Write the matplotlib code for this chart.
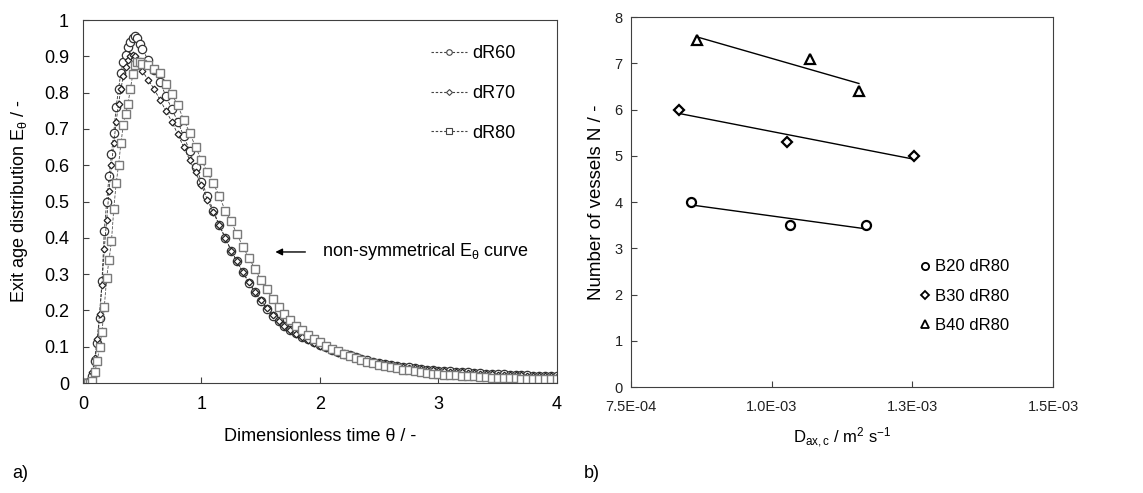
import matplotlib
matplotlib.use('Agg')
import matplotlib.pyplot as plt
import numpy as np
from matplotlib.lines import Line2D

plt.rcParams.update({'font.family': 'Liberation Sans', 'mathtext.fontset': 'custom',
    'mathtext.rm': 'Liberation Sans', 'mathtext.it': 'Liberation Sans:italic',
    'axes.edgecolor': '#404040', 'xtick.color': '#404040', 'ytick.color': '#404040',
    'text.color': 'black', 'axes.labelcolor': 'black'})

# --- panel a: exit age distribution ---
theta = [0.00, 0.02, 0.04, 0.06, 0.08, 0.10, 0.12, 0.14, 0.16, 0.18, 0.20, 0.22, 0.24,
         0.26, 0.28, 0.30, 0.32, 0.34, 0.36, 0.38, 0.40, 0.42, 0.44, 0.46, 0.48, 0.50,
         0.55, 0.60, 0.65, 0.70, 0.75, 0.80, 0.85, 0.90, 0.95, 1.00,
         1.05, 1.10, 1.15, 1.20, 1.25, 1.30, 1.35, 1.40, 1.45, 1.50,
         1.55, 1.60, 1.65, 1.70, 1.75, 1.80, 1.85, 1.90, 1.95, 2.00,
         2.05, 2.10, 2.15, 2.20, 2.25, 2.30, 2.35, 2.40, 2.45, 2.50,
         2.55, 2.60, 2.65, 2.70, 2.75, 2.80, 2.85, 2.90, 2.95, 3.00,
         3.05, 3.10, 3.15, 3.20, 3.25, 3.30, 3.35, 3.40, 3.45, 3.50,
         3.55, 3.60, 3.65, 3.70, 3.75, 3.80, 3.85, 3.90, 3.95, 4.00]

e_dr60 = [0, 0, 0, 0.005, 0.02, 0.06, 0.11, 0.18, 0.28, 0.42, 0.50, 0.57, 0.63,
          0.69, 0.76, 0.81, 0.855, 0.885, 0.905, 0.925, 0.94, 0.95, 0.957, 0.95, 0.935, 0.92,
          0.89, 0.862, 0.83, 0.79, 0.755, 0.72, 0.68, 0.64, 0.595, 0.555,
          0.515, 0.475, 0.435, 0.40, 0.365, 0.335, 0.305, 0.275, 0.25, 0.225,
          0.205, 0.185, 0.17, 0.158, 0.147, 0.137, 0.128, 0.12, 0.112, 0.105,
          0.098, 0.092, 0.086, 0.081, 0.076, 0.071, 0.067, 0.063, 0.059, 0.056,
          0.053, 0.05, 0.048, 0.045, 0.043, 0.041, 0.039, 0.037, 0.036, 0.034,
          0.033, 0.032, 0.031, 0.03, 0.029, 0.028, 0.027, 0.026, 0.025, 0.024,
          0.024, 0.023, 0.022, 0.022, 0.021, 0.02, 0.02, 0.019, 0.019, 0.018]

e_dr70 = [0, 0, 0, 0.005, 0.03, 0.07, 0.12, 0.19, 0.27, 0.37, 0.45, 0.53, 0.60,
          0.66, 0.72, 0.77, 0.81, 0.845, 0.87, 0.89, 0.90, 0.905, 0.90, 0.89, 0.875, 0.86,
          0.835, 0.81, 0.78, 0.75, 0.72, 0.685, 0.65, 0.615, 0.58, 0.545,
          0.505, 0.47, 0.435, 0.40, 0.365, 0.335, 0.305, 0.278, 0.252, 0.228,
          0.207, 0.188, 0.172, 0.158, 0.146, 0.135, 0.126, 0.118, 0.11, 0.103,
          0.096, 0.09, 0.084, 0.079, 0.074, 0.07, 0.066, 0.062, 0.058, 0.055,
          0.052, 0.049, 0.047, 0.044, 0.042, 0.04, 0.038, 0.036, 0.035, 0.033,
          0.032, 0.031, 0.03, 0.029, 0.028, 0.027, 0.026, 0.025, 0.024, 0.023,
          0.023, 0.022, 0.021, 0.021, 0.02, 0.02, 0.019, 0.018, 0.018, 0.017]

e_dr80 = [0, 0, 0, 0, 0.005, 0.03, 0.06, 0.10, 0.14, 0.21, 0.29, 0.34, 0.39,
          0.48, 0.55, 0.60, 0.66, 0.71, 0.74, 0.77, 0.81, 0.85, 0.875, 0.885, 0.885, 0.88,
          0.875, 0.865, 0.853, 0.825, 0.795, 0.765, 0.725, 0.69, 0.65, 0.615,
          0.58, 0.55, 0.515, 0.475, 0.445, 0.41, 0.375, 0.345, 0.315, 0.285,
          0.258, 0.232, 0.21, 0.19, 0.173, 0.158, 0.145, 0.133, 0.122, 0.112,
          0.103, 0.095, 0.087, 0.08, 0.074, 0.068, 0.063, 0.058, 0.054, 0.05,
          0.046, 0.043, 0.04, 0.037, 0.035, 0.032, 0.03, 0.028, 0.026, 0.025,
          0.023, 0.022, 0.021, 0.02, 0.019, 0.018, 0.017, 0.016, 0.015, 0.015,
          0.014, 0.013, 0.013, 0.012, 0.012, 0.011, 0.011, 0.01, 0.01, 0.01]

# --- panel b: number of vessels vs axial dispersion ---
d_b20 = [8.56e-4, 1.033e-3, 1.168e-3]
n_b20 = [4.0, 3.5, 3.5]
d_b30 = [8.35e-4, 1.028e-3, 1.252e-3]
n_b30 = [6.0, 5.3, 5.0]
d_b40 = [8.67e-4, 1.068e-3, 1.155e-3]
n_b40 = [7.5, 7.1, 6.4]

fig = plt.figure(figsize=(11.43, 4.93), dpi=100)
fig.patch.set_facecolor('white')

# ---------------- panel a ----------------
ax = fig.add_axes([0.0726, 0.2231, 0.4147, 0.7363])
ax.plot(theta, e_dr60, ls='--', lw=0.6, color='#333333', marker='o', ms=6,
        mfc='white', mec='#333333', mew=0.9)
ax.plot(theta, e_dr70, ls='--', lw=0.6, color='#333333', marker='D', ms=3.4,
        mfc='white', mec='#222222', mew=0.9)
ax.plot(theta, e_dr80, ls='--', lw=0.6, color='#555555', marker='s', ms=6,
        mfc='white', mec='#7a7a7a', mew=1.0)
ax.set_xlim(0, 4); ax.set_ylim(0, 1)
ax.set_xticks([0, 1, 2, 3, 4])
ax.set_yticks(np.arange(0, 1.01, 0.1))
ax.set_yticklabels(['0', '0.1', '0.2', '0.3', '0.4', '0.5', '0.6', '0.7', '0.8', '0.9', '1'])
ax.tick_params(direction='in', labelsize=13, length=4, labelcolor='black')
ax.tick_params(axis='y', pad=10); ax.tick_params(axis='x', pad=9)
ax.set_xlabel('Dimensionless time θ / -', fontsize=13)
ax.set_ylabel('Exit age distribution E$_\\mathrm{θ}$ / -', fontsize=13)
ax.xaxis.set_label_coords(0.5, -0.125)
ax.yaxis.set_label_coords(-0.112, 0.5)

hands = [Line2D([], [], ls='--', dashes=(2.2, 1.6), lw=0.8, color='#444444', marker=m, ms=s,
                mfc='white', mec='#444444', mew=0.8)
         for m, s in [('o', 4), ('D', 3), ('s', 4)]]
ax.legend(hands, ['dR60', 'dR70', 'dR80'], loc='upper left', bbox_to_anchor=(0.735, 0.93),
          frameon=False, fontsize=13, handlelength=2.0, handletextpad=0.25,
          labelspacing=1.25, borderpad=0, borderaxespad=0)

ax.annotate('', xy=(1.60, 0.361), xytext=(1.90, 0.361),
            arrowprops=dict(arrowstyle='-|>', color='black', lw=1, mutation_scale=10))
ax.text(2.02, 0.361, 'non-symmetrical E$_\\mathrm{θ}$ curve', fontsize=13, va='center')

# ---------------- panel b ----------------
bx = fig.add_axes([0.5521, 0.2150, 0.3692, 0.7505])
series = [(d_b20, n_b20, 'o', 6.5, 'B20 dR80'),
          (d_b30, n_b30, 'D', 5.0, 'B30 dR80'),
          (d_b40, n_b40, '^', 6.5, 'B40 dR80')]
for xs, ys, m, s, lab in series:
    k, c = np.polyfit(xs, ys, 1)
    xl = np.array([min(xs), max(xs)])
    bx.plot(xl, k * xl + c, color='black', lw=1)
    bx.plot(xs, ys, ls='none', marker=m, ms=s, mfc='white', mec='black', mew=1.6, label=lab)
bx.set_xlim(7.5e-4, 1.5e-3); bx.set_ylim(0, 8)
bx.set_xticks([7.5e-4, 1.0e-3, 1.25e-3, 1.5e-3])
bx.set_xticklabels(['7.5E-04', '1.0E-03', '1.3E-03', '1.5E-03'])
bx.set_yticks(range(0, 9))
bx.tick_params(direction='in', labelsize=10.5, length=4, labelcolor='#222222')
bx.tick_params(axis='y', pad=6); bx.tick_params(axis='x', pad=9)
bx.set_xlabel('D$_\\mathrm{ax,c}$ / m$^\\mathrm{2}$ s$^\\mathrm{-1}$', fontsize=12)
bx.set_ylabel('Number of vessels N / -', fontsize=13.5)
bx.xaxis.set_label_coords(0.5, -0.105)
bx.yaxis.set_label_coords(-0.062, 0.5)
hb = [Line2D([], [], ls='none', marker=m, ms=s * 0.8, mfc='white', mec='black', mew=1.3)
      for _, _, m, s, _ in series]
bx.legend(hb, [t[4] for t in series], loc='upper left', bbox_to_anchor=(0.68, 0.345),
          frameon=False, fontsize=12, handlelength=0.8, handletextpad=0.2,
          labelspacing=0.85, borderpad=0, borderaxespad=0)

fig.text(0.011, 0.03, 'a)', fontsize=13)
fig.text(0.511, 0.03, 'b)', fontsize=13)

plt.savefig('out.png', dpi=100, facecolor='white')
plt.close()
